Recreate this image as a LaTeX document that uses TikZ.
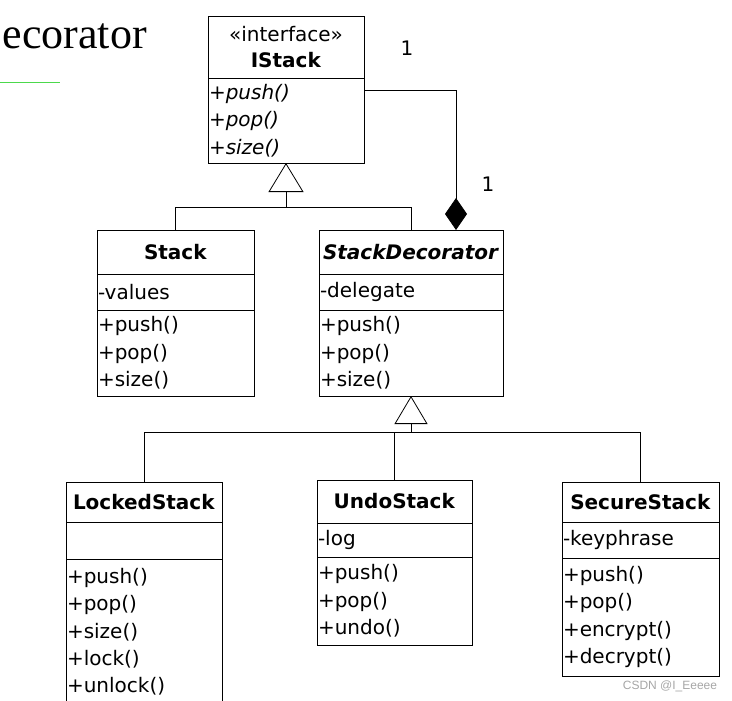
\documentclass[tikz,border=0pt]{standalone}
\usepackage{fontspec}
\setmainfont{DejaVu Sans}
\newfontfamily\titlefont{Liberation Serif}
\newfontfamily\markfont{Liberation Sans}
\usepackage{tikz}
\usetikzlibrary{positioning,arrows.meta,calc}
\newcommand{\umlfont}{\fontsize{20}{27.3}\selectfont}
\definecolor{ulinegreen}{RGB}{76,217,76}

\begin{document}
\begin{tikzpicture}
        [
            x = 1pt, y = -1pt,
            umlclass/.style = {draw, line width = 0.8pt, inner xsep = 1pt, inner ysep = 0pt, outer sep = 0pt, font = \umlfont},
            umlhead/.style = {umlclass, anchor = north, align = center},
            umlbody/.style = {umlclass, align = left, below = 0pt of #1},
            umllink/.style = {line width = 0.8pt},
            umlextends/.style = {umllink, -{Triangle[open, length = 29pt, width = 35pt]}},
            umlowns/.style = {umllink, -{Diamond[length = 32pt, width = 22pt]}},
            umlmult/.style = {font = \umlfont},
        ]

        \useasboundingbox (0,0) rectangle (732,701);

        \node[font = \titlefont\fontsize{44}{50}\selectfont, anchor = base east, inner sep = 0pt] (title) at (147,49) {ecorator};
        \coordinate (ulinea) at (0,83);
        \coordinate (ulineb) at (60,83);
        \draw[line width = 1pt, ulinegreen] (ulinea) -- (ulineb);

        \node[umlhead, text width = 154pt, minimum height = 62pt] (istack) at (286,16) {«interface»\\[-2pt]\textbf{IStack}};
        \node[umlbody = istack, text width = 154pt, minimum height = 85pt, font = \umlfont\itshape] (istack-m) {+push()\\+pop()\\+size()};

        \node[umlhead, text width = 155pt, minimum height = 44pt] (stack) at (175.5,230) {\textbf{Stack}};
        \node[umlbody = stack, text width = 155pt, minimum height = 36pt] (stack-a) {-values};
        \node[umlbody = stack-a, text width = 155pt, minimum height = 86pt] (stack-m) {+push()\\+pop()\\+size()};

        \node[umlhead, text width = 182pt, minimum height = 44pt] (sdec) at (411,230) {\textbf{\itshape StackDecorator}};
        \node[umlbody = sdec, text width = 182pt, minimum height = 36pt] (sdec-a) {-delegate};
        \node[umlbody = sdec-a, text width = 182pt, minimum height = 86pt] (sdec-m) {+push()\\+pop()\\+size()};

        \node[umlhead, text width = 154pt, minimum height = 40pt] (locked) at (144,482) {\textbf{LockedStack}};
        \node[umlbody = locked, text width = 154pt, minimum height = 37pt] (locked-a) {};
        \node[umlbody = locked-a, text width = 154pt, minimum height = 146pt] (locked-m) {+push()\\+pop()\\+size()\\+lock()\\+unlock()};

        \node[umlhead, text width = 153pt, minimum height = 43pt] (undo) at (394.5,480) {\textbf{UndoStack}};
        \node[umlbody = undo, text width = 153pt, minimum height = 34pt] (undo-a) {-log};
        \node[umlbody = undo-a, text width = 153pt, minimum height = 88pt] (undo-m) {+push()\\+pop()\\+undo()};

        \node[umlhead, text width = 155pt, minimum height = 40pt] (secure) at (640.5,482) {\textbf{SecureStack}};
        \node[umlbody = secure, text width = 155pt, minimum height = 36pt] (secure-a) {-keyphrase};
        \node[umlbody = secure-a, text width = 155pt, minimum height = 118pt] (secure-m) {+push()\\+pop()\\+encrypt()\\+decrypt()};

        \coordinate (gen1) at (286,207);
        \draw[umllink] (stack.north) |- (gen1);
        \draw[umllink] (sdec.north) |- (gen1);
        \draw[umlextends] (gen1) -- (istack-m.south);

        \draw[umlowns] ($(istack-m.north east)+(0pt,-12pt)$) -| ($(sdec.north)+(45pt,0pt)$);
        \node[umlmult] (mult1) at (407,48) {1};
        \node[umlmult] (mult2) at (488,184) {1};

        \coordinate (gen2) at (411,432);
        \draw[umllink] (locked.north) |- (gen2);
        \draw[umllink] (undo.north) |- (gen2);
        \draw[umllink] (secure.north) |- (gen2);
        \draw[umllink, -{Triangle[open, length = 28pt, width = 33pt]}] (gen2) -- (sdec-m.south);

        \node[font = \markfont\fontsize{12}{14}\selectfont, text = gray!70] (mark) at (670,686) {CSDN @I\_Eeeee};

    \end{tikzpicture}
\end{document}
